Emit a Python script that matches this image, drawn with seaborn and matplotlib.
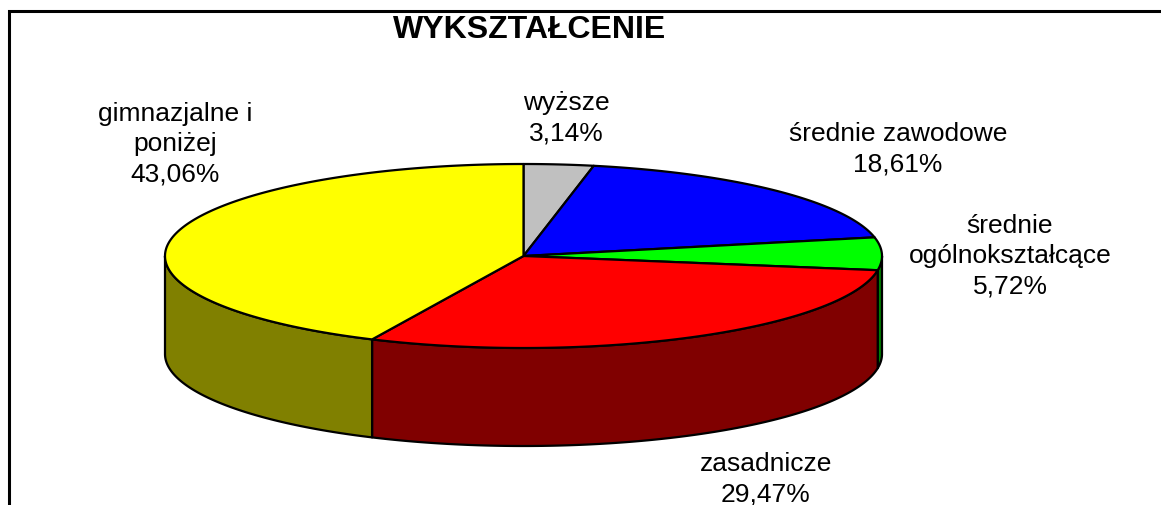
import numpy as np
import matplotlib
matplotlib.use("Agg")
import matplotlib.pyplot as plt
import seaborn as sns
from matplotlib.patches import Polygon
from matplotlib.lines import Line2D

# ---- data ----
categories = ["wyższe", "średnie zawodowe", "średnie\nogólnokształcące",
              "zasadnicze", "gimnazjalne i\nponiżej"]
values = [3.14, 18.61, 5.72, 29.47, 43.06]
top_colors = ["#C0C0C0", "#0000FF", "#00FF00", "#FF0000", "#FFFF00"]
side_colors = ["#606060", "#000080", "#008000", "#800000", "#808000"]
title = "WYKSZTAŁCENIE"

# ---- style ----
sns.set_theme(style="white")
plt.rcParams["font.family"] = ["Liberation Sans", "DejaVu Sans"]

W, H = 1161, 506
fig = plt.figure(figsize=(W / 100, H / 100), dpi=100)
ax = fig.add_axes([0, 0, 1, 1])
ax.set_xlim(0, W)
ax.set_ylim(H, 0)
ax.axis("off")

# frame (left + top lines)
ax.add_line(Line2D([9, 9, W], [H, 12, 12], color="black", lw=2.2, solid_joinstyle="miter"))

# pie geometry (layout)
cx, cy, rx, ry, depth = 523.5, 257, 358.5, 92, 98


def pt(t):
    r = np.radians(t)
    return cx + rx * np.sin(r), cy - ry * np.cos(r)


bounds = np.cumsum([0] + values) / sum(values) * 360.0
edge = dict(ec="black", lw=1.6, joinstyle="round")

# side walls (front half only)
for i in range(len(values)):
    a0, a1 = bounds[i], bounds[i + 1]
    s0, s1 = max(a0, 90), min(a1, 270)
    if s1 <= s0:
        continue
    t = np.linspace(s0, s1, 200)
    xs, ys = pt(t)
    top = np.column_stack([xs, ys])
    bot = np.column_stack([xs, ys + depth])[::-1]
    ax.add_patch(Polygon(np.vstack([top, bot]), closed=True, fc=side_colors[i], **edge))

# top faces
for i in range(len(values)):
    a0, a1 = bounds[i], bounds[i + 1]
    t = np.linspace(a0, a1, 200)
    xs, ys = pt(t)
    verts = np.vstack([[cx, cy], np.column_stack([xs, ys])])
    ax.add_patch(Polygon(verts, closed=True, fc=top_colors[i], **edge))

# labels
label_pos = [(566, 118), (898, 149), (1010, 256), (766, 479), (175, 144)]
for cat, v, (lx, ly) in zip(categories, values, label_pos):
    txt = f"{cat}\n{v:.2f}%".replace(".", ",")
    ax.text(lx, ly, txt, ha="center", va="center", fontsize=19,
            linespacing=1.33, color="black")

ax.text(530, 37.5, title, ha="center", va="baseline", fontsize=23,
        fontweight="bold", color="black")

fig.savefig("out.png", dpi=100)
